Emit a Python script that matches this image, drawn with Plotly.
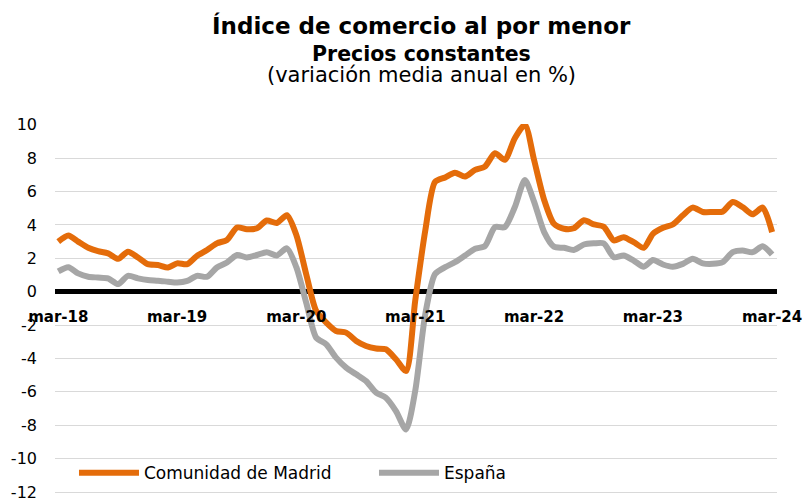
import plotly.graph_objects as go
import pandas as pd

# ---- data (monthly, mar-2018 .. mar-2024) ----
months = pd.date_range("2018-03-01", periods=73, freq="MS")

madrid = [3.0, 3.37, 3.0, 2.63, 2.43, 2.3, 1.97, 2.4, 2.05, 1.65, 1.6, 1.45,
          1.7, 1.65, 2.15, 2.5, 2.9, 3.1, 3.85, 3.75, 3.8, 4.27, 4.12, 4.58,
          3.4, 1.0, -1.15, -1.85, -2.35, -2.45, -2.95, -3.25, -3.4, -3.45, -4.05, -4.75,
          -0.55, 3.67, 6.58, 6.85, 7.13, 6.9, 7.3, 7.5, 8.3, 7.9, 9.2, 10.0,
          7.9, 5.5, 4.07, 3.77, 3.8, 4.28, 4.03, 3.9, 3.07, 3.27, 2.97, 2.63,
          3.47, 3.83, 4.03, 4.58, 5.04, 4.78, 4.78, 4.8, 5.38, 5.08, 4.64, 5.04, 3.57]

espana = [1.22, 1.47, 1.1, 0.9, 0.85, 0.8, 0.46, 0.95, 0.8, 0.7, 0.66, 0.6,
          0.55, 0.65, 0.95, 0.9, 1.45, 1.75, 2.2, 2.05, 2.2, 2.37, 2.17, 2.6,
          1.47, -0.7, -2.75, -3.15, -3.95, -4.55, -4.95, -5.35, -6.05, -6.35, -7.15, -8.25,
          -5.95, -1.35, 1.06, 1.47, 1.77, 2.17, 2.57, 2.73, 3.87, 3.87, 5.08, 6.69,
          5.4, 3.57, 2.7, 2.63, 2.5, 2.83, 2.9, 2.9, 2.07, 2.17, 1.87, 1.5,
          1.9, 1.63, 1.5, 1.67, 1.97, 1.7, 1.67, 1.77, 2.37, 2.47, 2.37, 2.73, 2.23]

x_tick_dates = ["2018-03-01", "2019-03-01", "2020-03-01", "2021-03-01",
                "2022-03-01", "2023-03-01", "2024-03-01"]
x_tick_labels = ["mar-18", "mar-19", "mar-20", "mar-21", "mar-22", "mar-23", "mar-24"]

y_tick_vals = [10, 8, 6, 4, 2, 0, -2, -4, -6, -8, -10, -12]
y_tick_labels = ["10", "8", "6", "4", "2", "0", "-2", "-4", "-6", "-8", "-10", "-12"]

series_names = ["Comunidad de Madrid", "España"]
series_colors = ["#E46C0A", "#A6A6A6"]

title_lines = ["Índice de comercio al por menor", "Precios constantes",
               "(variación media anual en %)"]

FONT = "DejaVu Sans"
Y_MIN, Y_MAX = -12.12, 10.05

fig = go.Figure()
for name, vals, col in zip(series_names, [madrid, espana], series_colors):
    fig.add_trace(go.Scatter(
        x=months, y=vals, name=name, mode="lines",
        line=dict(color=col, width=6, shape="spline", smoothing=0.7),
    ))

fig.update_layout(
    width=805, height=498,
    margin=dict(l=55, r=28, t=124, b=4, autoexpand=False),
    paper_bgcolor="white", plot_bgcolor="white",
    font=dict(family=FONT, color="black"),
    showlegend=True,
    legend=dict(
        orientation="h", x=0.0263, xanchor="left", y=0.056, yanchor="middle",
        bgcolor="rgba(0,0,0,0)", font=dict(family=FONT, size=17, color="black"),
        itemwidth=60, entrywidth=225, entrywidthmode="pixels",
    ),
    xaxis=dict(
        type="date", automargin=False,
        range=["2018-02-19", "2024-03-16"],
        anchor="free", position=(0 - Y_MIN) / (Y_MAX - Y_MIN),
        tickmode="array", tickvals=x_tick_dates, ticktext=x_tick_labels,
        tickfont=dict(family=FONT, size=15, color="black", weight="bold"),
        showgrid=False, showline=False, zeroline=False, ticks="",
        ticklabelstandoff=14, ticklabeloverflow="allow",
    ),
    yaxis=dict(
        range=[Y_MIN, Y_MAX], automargin=False,
        tickmode="array", tickvals=y_tick_vals, ticktext=y_tick_labels,
        tickfont=dict(family=FONT, size=16, color="black"),
        showgrid=True, gridcolor="#D9D9D9", gridwidth=1,
        zeroline=True, zerolinecolor="black", zerolinewidth=5,
        showline=False, ticks="", ticklabelstandoff=17,
        ticklabeloverflow="allow",
    ),
    annotations=[
        dict(text="<b>" + title_lines[0] + "</b>", x=0.508, y=1.266, xref="paper", yref="paper",
             xanchor="center", yanchor="middle", showarrow=False,
             font=dict(family=FONT, size=23, color="black")),
        dict(text="<b>" + title_lines[1] + "</b>", x=0.508, y=1.19, xref="paper", yref="paper",
             xanchor="center", yanchor="middle", showarrow=False,
             font=dict(family=FONT, size=20.5, color="black")),
        dict(text=title_lines[2], x=0.508, y=1.132, xref="paper", yref="paper",
             xanchor="center", yanchor="middle", showarrow=False,
             font=dict(family=FONT, size=21, color="black")),
    ],
)

fig.write_html("out.html", config={"displayModeBar": False},
               post_script="document.body.style.margin='0';")
